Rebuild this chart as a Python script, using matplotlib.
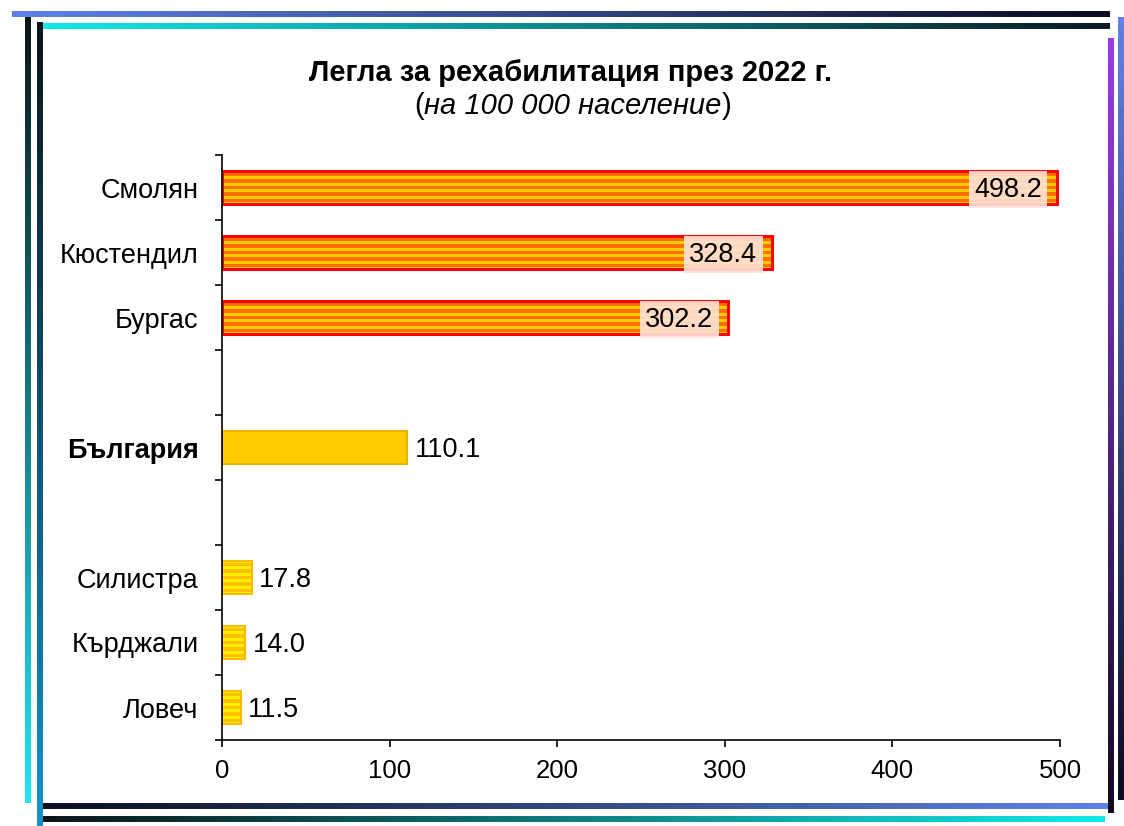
import numpy as np
import matplotlib.pyplot as plt
from matplotlib.collections import LineCollection
from matplotlib.colors import LinearSegmentedColormap

plt.rcParams['font.family'] = ['Liberation Sans', 'DejaVu Sans']

# Данни (празните редове са разстоянията между групите)
oblasti = ['Смолян', 'Кюстендил', 'Бургас', '', 'България', '', 'Силистра', 'Кърджали', 'Ловеч']
stoinosti = [498.2, 328.4, 302.2, None, 110.1, None, 17.8, 14.0, 11.5]
grupa = ['visoki', 'visoki', 'visoki', None, 'bg', None, 'niski', 'niski', 'niski']

W, H = 1124, 826
fig = plt.figure(figsize=(W / 100, H / 100), dpi=100)
ax = fig.add_axes([222 / W, 1 - 740 / H, (1060 - 222) / W, (740 - 155) / H])

BH = 0.5      # височина на стълбчето
NS = 5        # брой ивици


def ivici(i, v, osnova, ivica):
    ax.barh(i, v, height=BH, color=osnova, linewidth=0)
    stap = BH / NS
    for k in range(NS):
        ax.barh(i - BH / 2 + stap * (k + 0.5), v, height=stap * 0.5, color=ivica, linewidth=0)


y = np.arange(len(oblasti))
for i, (ime, v, g) in enumerate(zip(oblasti, stoinosti, grupa)):
    if v is None:
        continue
    if g == 'visoki':
        ivici(i, v, '#FFCC00', '#FF7000')
        ax.barh(i, v, height=BH, fill=False, edgecolor='#FF0000', linewidth=2.2)
        ax.annotate(f'{v:.1f}', xy=(v, i), xytext=(-11, -1.5), textcoords='offset points',
                    ha='right', va='center', fontsize=19.5,
                    bbox=dict(boxstyle='square,pad=0.2', facecolor='#FFE2D8', edgecolor='none', alpha=0.9))
    elif g == 'bg':
        ax.barh(i, v, height=BH, color='#FFCC00', edgecolor='#E8B400', linewidth=1.5)
        ax.annotate(f'{v:.1f}', xy=(v, i), xytext=(6, -2), textcoords='offset points',
                    ha='left', va='center', fontsize=19.5)
    else:
        ivici(i, v, '#FFF000', '#FFC000')
        ax.barh(i, v, height=BH, fill=False, edgecolor='#FFBA00', linewidth=1.5)
        ax.annotate(f'{v:.1f}', xy=(v, i), xytext=(5, -2), textcoords='offset points',
                    ha='left', va='center', fontsize=19.5)

ax.set_xlim(0, 500)
ax.set_ylim(len(oblasti) - 0.5, -0.5)
ax.set_xticks(np.arange(0, 501, 100))
ax.tick_params(axis='x', labelsize=18.5, length=5, width=1.2, pad=9)

# деления между категориите, надписите в средата
ax.set_yticks(np.arange(-0.5, len(oblasti), 1.0))
ax.set_yticklabels([])
ax.set_yticks(y, oblasti, minor=True)
ax.tick_params(axis='y', which='major', length=5, width=1.2)
ax.tick_params(axis='y', which='minor', length=0, labelsize=19.5, pad=17)
for lbl in ax.get_yticklabels(minor=True):
    if lbl.get_text() == 'България':
        lbl.set_fontweight('bold')

for s in ['top', 'right']:
    ax.spines[s].set_visible(False)
for s in ['left', 'bottom']:
    ax.spines[s].set_linewidth(1.2)

# Заглавие
fig.text(571 / W, 1 - 73 / H, 'Легла за рехабилитация през 2022 г.', ha='center', va='center',
         fontsize=21, fontweight='bold')
sred = fig.text(573 / W, 1 - 106 / H, 'на 100 000 население', ha='center', va='center',
                fontsize=21, style='italic')
ax.annotate('(', xy=(0, 0.5), xycoords=sred, ha='right', va='center', fontsize=21, annotation_clip=False)
ax.annotate(')', xy=(1, 0.5), xycoords=sred, ha='left', va='center', fontsize=21, annotation_clip=False)


# Рамка с преливащи линии
def liniya(x0, y0, x1, y1, c0, c1, lw=4.3, n=120):
    xs = np.linspace(x0, x1, n + 1) / W
    ys = 1 - np.linspace(y0, y1, n + 1) / H
    seg = np.stack([np.column_stack([xs[:-1], ys[:-1]]), np.column_stack([xs[1:], ys[1:]])], axis=1)
    cmap = LinearSegmentedColormap.from_list('g', [c0, c1])
    lc = LineCollection(seg, colors=cmap(np.linspace(0, 1, n)), linewidths=lw,
                        transform=fig.transFigure, capstyle='butt')
    fig.add_artist(lc)


liniya(12, 14, 1110, 14, '#5C82E6', '#0A0A20')
liniya(40, 25.5, 1110, 25.5, '#10E8E8', '#0A1A20')
liniya(28, 17, 28, 803, '#0A1418', '#20E4F0')
liniya(39.5, 22, 39.5, 826, '#0A1418', '#1490C8')
liniya(43, 805.5, 1110, 805.5, '#0A1020', '#5C82E6')
liniya(43, 819, 1105, 819, '#0A1418', '#10E8E8')
liniya(1111, 38, 1111, 813, '#9A3AE8', '#100A20')
liniya(1121, 17, 1121, 800, '#6080E8', '#0A0A20')

plt.savefig('out.png', dpi=100)
